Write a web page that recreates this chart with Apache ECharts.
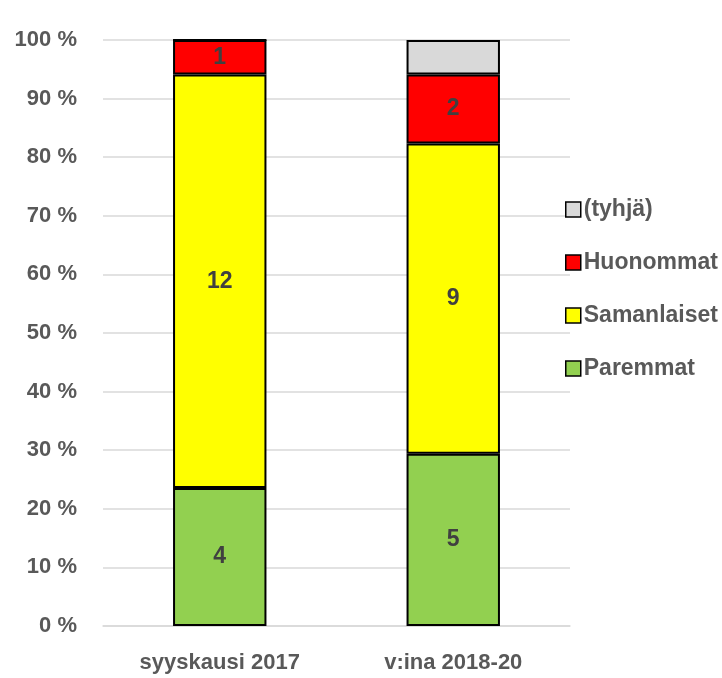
<!DOCTYPE html>
<html lang="fi">
<head>
    <meta charset="UTF-8">
    <title>Vertailu</title>
    <script src="https://cdn.jsdelivr.net/npm/echarts@6/dist/echarts.min.js"></script>
    <style>
        html, body { margin: 0; padding: 0; background: #fff; }
    </style>
</head>
<body>
    <div id="main" style="width: 722px;height:678px;"></div>

    <script type="text/javascript">

        var categories = ['syyskausi 2017', 'v:ina 2018-20']
        var paremmat = [4, 5]
        var samanlaiset = [12, 9]
        var huonommat = [1, 2]
        var tyhja = [0, 1]
        var yTicks = [0, 10, 20, 30, 40, 50, 60, 70, 80, 90, 100]

        var totals = categories.map(function (c, i) {
            return paremmat[i] + samanlaiset[i] + huonommat[i] + tyhja[i]
        })

        var textFont = '"Liberation Sans", Arial, sans-serif'
        var grey = '#595959'

        function makeSeries(name, counts, color, showLabel) {
            return {
                name: name,
                type: 'bar',
                stack: 'total',
                barWidth: '40%',
                itemStyle: { color: color, borderColor: '#000', borderWidth: 2 },
                label: {
                    show: showLabel,
                    position: 'inside',
                    color: '#404040',
                    fontFamily: textFont,
                    fontWeight: 'bold',
                    fontSize: 23,
                    formatter: function (p) { return counts[p.dataIndex] ? counts[p.dataIndex] : '' }
                },
                data: counts.map(function (v, i) { return v / totals[i] * 100 })
            }
        }

        var myChart = echarts.init(document.getElementById('main'));

        var option = {
            animation: false,
            grid: { left: 103, right: 152, top: 40, bottom: 52 },
            legend: {
                orient: 'vertical',
                left: 560,
                top: 193,
                itemWidth: 15,
                itemHeight: 15,
                itemGap: 30,
                icon: 'rect',
                itemStyle: { borderColor: '#000', borderWidth: 1.5 },
                data: ['(tyhjä)', 'Huonommat', 'Samanlaiset', 'Paremmat'],
                textStyle: {
                    color: grey,
                    fontFamily: textFont,
                    fontWeight: 'bold',
                    fontSize: 23,
                    lineHeight: 23,
                    padding: [0, 0, 0, -2]
                }
            },
            xAxis: {
                type: 'category',
                data: categories,
                axisTick: { show: false },
                axisLine: { lineStyle: { color: '#d9d9d9', width: 1.5 } },
                axisLabel: {
                    color: grey,
                    fontFamily: textFont,
                    fontWeight: 'bold',
                    fontSize: 22,
                    margin: 26
                }
            },
            yAxis: {
                type: 'value',
                min: yTicks[0],
                max: yTicks[yTicks.length - 1],
                interval: 10,
                axisLine: { show: false },
                axisTick: { show: false },
                splitLine: { lineStyle: { color: '#d9d9d9', width: 1.5 } },
                axisLabel: {
                    color: grey,
                    fontFamily: textFont,
                    fontWeight: 'bold',
                    fontSize: 22,
                    margin: 26,
                    formatter: '{value} %'
                }
            },
            series: [
                makeSeries('Paremmat', paremmat, '#92d050', true),
                makeSeries('Samanlaiset', samanlaiset, '#ffff00', true),
                makeSeries('Huonommat', huonommat, '#ff0000', true),
                makeSeries('(tyhjä)', tyhja, '#d9d9d9', false)
            ]
        };
        myChart.setOption(option);
    </script>
</body>
</html>
